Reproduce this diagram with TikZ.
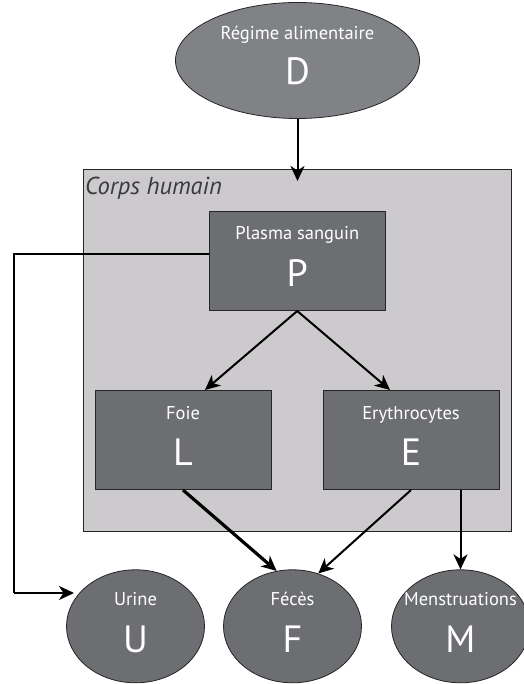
\documentclass[tikz,border=0pt]{standalone}
\usepackage{fontspec}
\setmainfont{PT Sans}
\usetikzlibrary{arrows.meta,shapes.geometric,calc}
\definecolor{bodyfill}{RGB}{204,202,205}
\definecolor{boxfill}{RGB}{109,110,113}
\definecolor{dietfill}{RGB}{128,130,133}
\definecolor{labelgray}{RGB}{58,58,60}
\tikzset{
  organ/.style={draw=black!85,line width=1pt,fill=boxfill,minimum width=176pt,minimum height=99pt,inner sep=0pt},
  outlet/.style={ellipse,draw=black!85,line width=0.8pt,fill=boxfill,minimum width=138pt,minimum height=113pt,inner sep=0pt},
  smalltxt/.style={text=white,font=\fontsize{18.5}{18.5}\selectfont,anchor=base,inner sep=0pt},
  bigtxt/.style={text=white,font=\fontsize{38}{38}\selectfont,anchor=base,inner sep=0pt},
  flow/.style={line width=2pt,-{Stealth[length=15pt,width=14pt,inset=4.5pt]}},
}
\begin{document}
\begin{tikzpicture}[x=1pt,y=-1pt]
\useasboundingbox (0,0) rectangle (523,684);
% diet
\node[ellipse,draw=black!85,line width=0.8pt,fill=dietfill,minimum width=244pt,minimum height=116pt,inner sep=0pt] (D) at (297.5,60.5) {};
\node[smalltxt] (Dt) at (297.5,40) {Régime alimentaire};
\node[bigtxt] (Dl) at (297.5,85) {D};
% body
\node[draw=black!85,line width=1pt,fill=bodyfill,minimum width=428pt,minimum height=361.5pt,inner sep=0pt] (body) at (297,350.25) {};
\node[anchor=base west,inner sep=0pt,text=labelgray,font=\fontsize{24.5}{24.5}\selectfont\itshape] (bodylbl) at (85,195) {Corps humain};
% organs
\node[organ] (P) at (297.25,261) {};
\node[smalltxt] (Pt) at (297.25,240) {Plasma sanguin};
\node[bigtxt] (Pl) at (297.25,286) {P};
\node[organ] (L) at (183,440) {};
\node[smalltxt] (Lt) at (183,419) {Foie};
\node[bigtxt] (Ll) at (183,465) {L};
\node[organ] (E) at (411,440) {};
\node[smalltxt] (Et) at (411,419) {Erythrocytes};
\node[bigtxt] (El) at (411,465) {E};
% outlets
\node[outlet] (U) at (135.5,626.3) {};
\node[smalltxt] (Ut) at (135.5,605) {Urine};
\node[bigtxt] (Ul) at (135.5,652) {U};
\node[outlet] (F) at (292.5,626.3) {};
\node[smalltxt] (Ft) at (292.5,605) {Fécès};
\node[bigtxt] (Fl) at (292.5,652) {F};
\node[outlet] (M) at (460.5,626.3) {};
\node[smalltxt] (Mt) at (460.5,605) {Menstruations};
\node[bigtxt] (Ml) at (460.5,652) {M};
% connectors
\coordinate (bodyin) at (297.5,181);
\coordinate (ucorner) at (14,593);
\coordinate (uend) at (74,593);
\draw[flow] (D.south) -- (bodyin);
\draw[line width=2pt] ([yshift=7pt]P.west) -| (ucorner);
\draw[flow] (ucorner) -- (uend);
\draw[flow] (P.south) -- ([xshift=22pt]L.north);
\draw[flow] (P.south) -- ([xshift=-21pt]E.north);
\draw[flow,line width=3.2pt] (L.south) -- (F.106);
\draw[flow] (E.south) -- (F.64);
\draw[flow] (E.south -| M.north) -- (M.north);
\end{tikzpicture}
\end{document}
